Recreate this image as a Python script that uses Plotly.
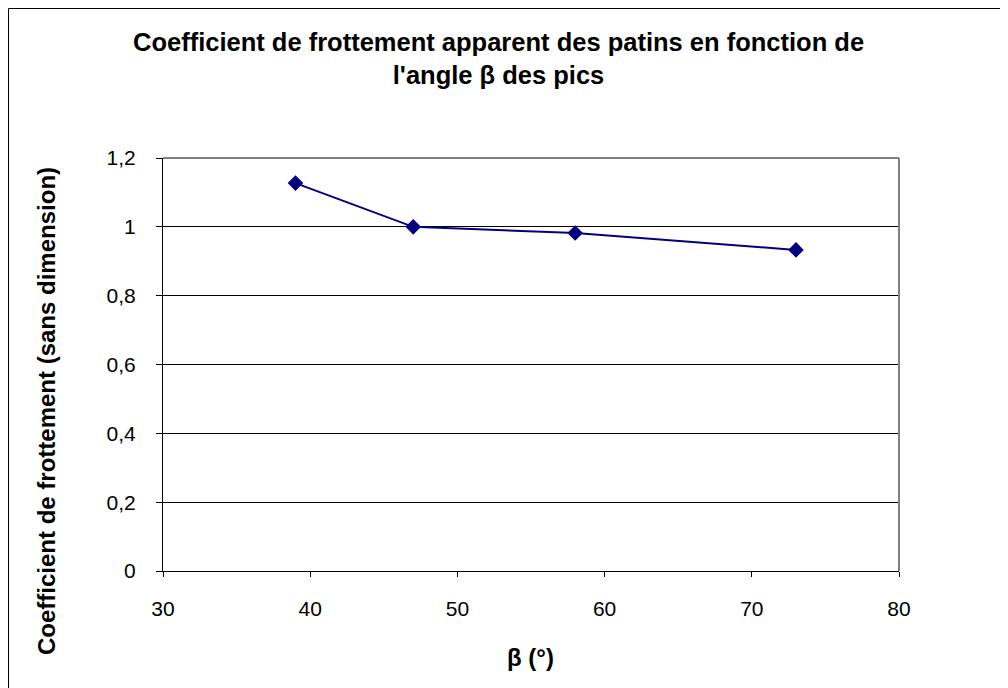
import plotly.graph_objects as go

beta_deg = [39, 47, 58, 73]
coef = [1.127, 1.0, 0.982, 0.933]
x_ticks = [30, 40, 50, 60, 70, 80]
y_ticks = [0, 0.2, 0.4, 0.6, 0.8, 1.0, 1.2]

# page is offset by the 8px default body margin
OFF = 8
W, H = 1008 - OFF, 688 - OFF
L, R, T, B = 163 - OFF, 899 - OFF, 158 - OFF, 571 - OFF

def px(xp):
    return (xp - OFF - L) / (R - L)

def py(yp):
    return (B - (yp - OFF)) / (B - T)

fig = go.Figure()
fig.add_trace(go.Scatter(
    x=beta_deg, y=coef, mode="lines+markers",
    line=dict(color="#000080", width=2),
    marker=dict(symbol="diamond", size=12, color="#000080"),
    showlegend=False, hoverinfo="skip"))

font = "Liberation Sans, Arial, sans-serif"

fig.update_layout(
    width=W, height=H,
    margin=dict(l=L, r=W - R, t=T, b=H - B),
    paper_bgcolor="white", plot_bgcolor="white",
    separators=", ",
    font=dict(family=font, color="black", size=21),
    xaxis=dict(range=[30, 80], tickvals=x_ticks, showgrid=False,
               showline=True, linecolor="black", linewidth=1,
               ticks="outside", ticklen=5, tickcolor="black",
               ticklabelstandoff=14, zeroline=False,
               tickfont=dict(size=21, family=font), mirror=False),
    yaxis=dict(range=[0, 1.2], tickvals=y_ticks, showgrid=True,
               gridcolor="black", gridwidth=1,
               showline=True, linecolor="black", linewidth=1,
               ticks="outside", ticklen=6, tickcolor="black",
               ticklabelstandoff=16, zeroline=False,
               tickfont=dict(size=21, family=font)),
    shapes=[
        # gray top/right plot frame
        dict(type="line", xref="paper", yref="paper", x0=0, x1=1, y0=1, y1=1,
             line=dict(color="#808080", width=2)),
        dict(type="line", xref="paper", yref="paper", x0=1, x1=1, y0=0, y1=1,
             line=dict(color="#808080", width=2)),
        # chart outer border (top & left visible)
        dict(type="line", xref="paper", yref="paper", x0=px(8.5), x1=px(1012),
             y0=py(8.5), y1=py(8.5), line=dict(color="black", width=1)),
        dict(type="line", xref="paper", yref="paper", x0=px(8.5), x1=px(8.5),
             y0=py(8.5), y1=py(692), line=dict(color="black", width=1)),
    ],
    annotations=[
        dict(text="<b>Coefficient de frottement apparent des patins en fonction de<br>l'angle β des pics</b>",
             xref="paper", yref="paper", x=px(498), y=py(59), showarrow=False,
             font=dict(size=25.5, family=font), align="center",
             xanchor="center", yanchor="middle"),
        dict(text="<b>β (°)</b>", xref="paper", yref="paper", x=px(530), y=py(657),
             showarrow=False, font=dict(size=24, family=font),
             xanchor="center", yanchor="middle"),
        dict(text="<b>Coefficient de frottement (sans dimension)</b>", xref="paper", yref="paper",
             x=px(46), y=py(411), textangle=-90, showarrow=False,
             font=dict(size=24, family=font), xanchor="center", yanchor="middle"),
    ],
)

fig.write_html("out.html")
